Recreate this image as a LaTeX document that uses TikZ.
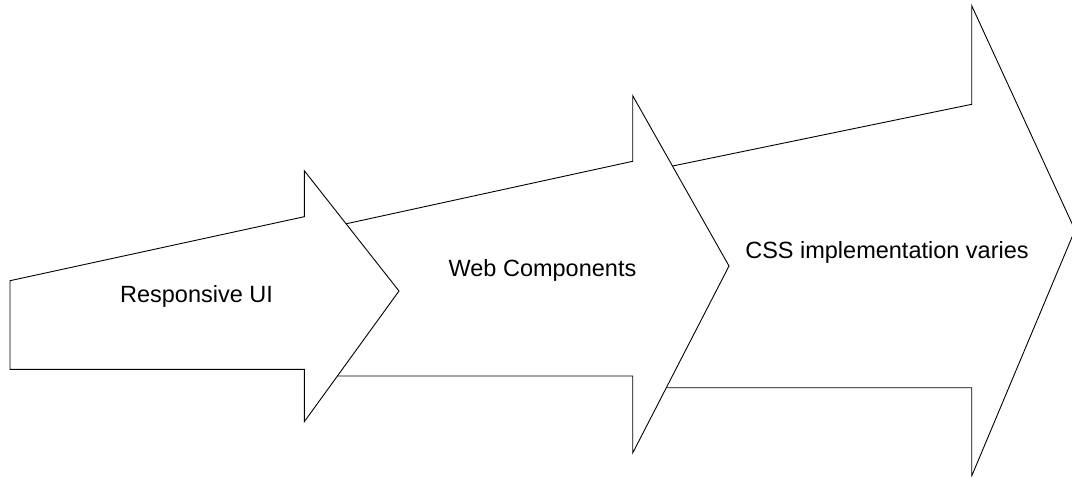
\documentclass[tikz,border=0pt]{standalone}
\usepackage{fontspec}
\setmainfont{Liberation Sans}
\begin{document}
\begin{tikzpicture}[x=1pt,y=-1pt,
  arrowshape/.style={draw=black, fill=white, line width=0.9pt, line join=miter},
  label/.style={anchor=base, inner sep=0pt, font=\fontsize{23.5}{28}\selectfont}]
\useasboundingbox (0,0) rectangle (1072,477);
\clip (0,0) rectangle (1072,477);
\fill[white] (0,0) rectangle (1072,477);
% arrow 3 (back)
\draw[arrowshape] (660,168.6) -- (971.7,104.3) -- (971.7,5.7) -- (1075,230)
  -- (971.7,476) -- (971.7,387.7) -- (660,387.7) -- cycle;
% arrow 2
\draw[arrowshape] (330,227.3) -- (632.7,161.3) -- (632.7,95.7) -- (729,266)
  -- (632.7,453) -- (632.7,376) -- (330,376) -- cycle;
% arrow 1 (front)
\draw[arrowshape] (10,280.7) -- (304.3,216.7) -- (304.3,170.7) -- (399,291)
  -- (304.3,421.7) -- (304.3,369.3) -- (10,369.3) -- cycle;
\node[label] (t1) at (196.5,302.5) {Responsive UI};
\node[label] (t2) at (542.5,276.7) {Web Components};
\node[label] (t3) at (887,258.3) {CSS implementation varies};
\end{tikzpicture}
\end{document}
